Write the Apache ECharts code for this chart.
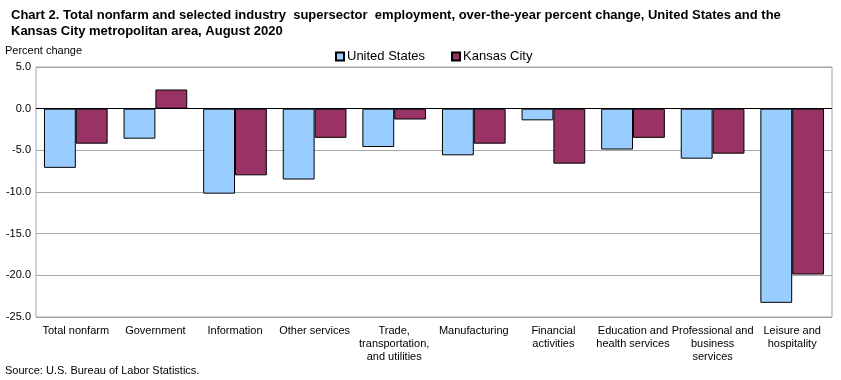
<!DOCTYPE html>
<html><head><meta charset="utf-8">
<script src="https://cdn.jsdelivr.net/npm/echarts@6/dist/echarts.min.js"></script>
<style>html,body{margin:0;padding:0;background:#fff}#c{width:841px;height:380px}</style>
</head><body><div id="c"></div>
<script>
const categories = ["Total nonfarm","Government","Information","Other services","Trade,\ntransportation,\nand utilities","Manufacturing","Financial\nactivities","Education and\nhealth services","Professional and\nbusiness\nservices","Leisure and\nhospitality"];
const unitedStates = [-7.1,-3.6,-10.2,-8.5,-4.6,-5.6,-1.4,-4.9,-6.0,-23.3];
const kansasCity = [-4.2,2.3,-8.0,-3.5,-1.3,-4.2,-6.6,-3.5,-5.4,-19.9];
const seriesNames = ["United States","Kansas City"];
const titleText = "Chart 2. Total nonfarm and selected industry  supersector  employment, over-the-year percent change, United States and the\nKansas City metropolitan area, August 2020";
const font = "Arial, 'Liberation Sans', sans-serif";
const chart = echarts.init(document.getElementById('c'), null, {renderer:'canvas'});
chart.setOption({
  animation:false,
  textStyle:{fontFamily:font},
  title:{text:titleText,left:6,top:2,textStyle:{fontFamily:font,fontSize:13,fontWeight:'bold',color:'#000',lineHeight:16}},
  legend:{left:330,top:45,itemWidth:8,itemHeight:8,itemGap:26,icon:'rect',
    textStyle:{fontFamily:font,fontSize:13,color:'#000',padding:[0,0,0,-2]},data:seriesNames},
  grid:{left:36,right:9,top:67,bottom:63,show:true,borderColor:'#A6A6A6',borderWidth:1},
  xAxis:{type:'category',data:categories,axisLine:{show:false,onZero:false},axisTick:{show:false},
    axisLabel:{interval:0,margin:7,fontSize:11,color:'#000',lineHeight:13,fontFamily:font}},
  yAxis:{type:'value',min:-25,max:5,interval:5,
    name:'Percent change',nameLocation:'end',nameGap:0,
    nameTextStyle:{fontSize:11,color:'#000',align:'left',verticalAlign:'bottom',padding:[0,0,11,-31],fontFamily:font},
    axisLine:{show:false},axisTick:{show:false},
    axisLabel:{formatter:v=>v.toFixed(1),fontSize:11,color:'#000',margin:5,fontFamily:font},
    splitLine:{lineStyle:{color:'#A6A6A6',width:1}}},
  series:[
    {name:seriesNames[0],type:'bar',data:unitedStates,barGap:'0%',barCategoryGap:'20%',
     itemStyle:{color:'#99CCFF',borderColor:'#000',borderWidth:1},
     markLine:{silent:true,symbol:'none',label:{show:false},lineStyle:{color:'#000',width:1,type:'solid'},data:[{yAxis:0}]}},
    {name:seriesNames[1],type:'bar',data:kansasCity,
     itemStyle:{color:'#993366',borderColor:'#000',borderWidth:1}}
  ],
  graphic:[{type:'text',left:5,top:365,style:{text:'Source: U.S. Bureau of Labor Statistics.',fontSize:11,fill:'#000',fontFamily:font}}]
});
</script></body></html>
